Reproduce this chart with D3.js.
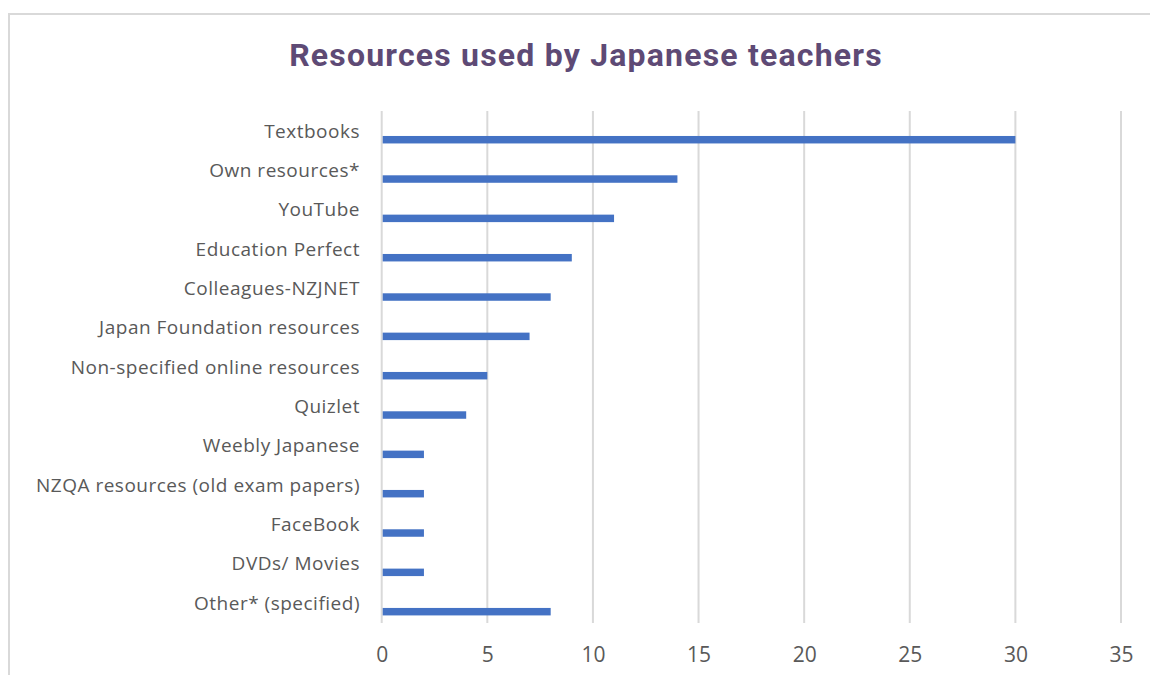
<!DOCTYPE html>
<html><head><meta charset="utf-8">
<script src="https://cdn.jsdelivr.net/npm/d3@7"></script>
<style>html,body{margin:0;padding:0;background:#fff;}</style>
</head><body>
<svg id="c" width="1150" height="675"></svg>
<script>
const categories = ["Textbooks","Own resources*","YouTube","Education Perfect","Colleagues-NZJNET","Japan Foundation resources","Non-specified online resources","Quizlet","Weebly Japanese","NZQA resources (old exam papers)","FaceBook","DVDs/ Movies","Other* (specified)"];
const values = [30,14,11,9,8,7,5,4,2,2,2,2,8];
const xTicks = [0,5,10,15,20,25,30,35];
const title = "Resources used by Japanese teachers";

const svg = d3.select("#c");
// frame
svg.append("path").attr("d","M9,675 V14 H1150").attr("fill","none").attr("stroke","#d9d9d9").attr("stroke-width",2);

svg.append("text").attr("x",586).attr("y",66).attr("text-anchor","middle")
  .attr("font-family","Roboto").attr("font-weight","bold").attr("font-size",32)
  .attr("letter-spacing",1.2)
  .attr("fill","#5e4a75").text(title);

const x = d3.scaleLinear().domain([0,35]).range([381.7,1121]);
const y = d3.scaleBand().domain(categories).range([111,622.3]).paddingInner(0).paddingOuter(0);

// gridlines
svg.append("g").selectAll("line").data(xTicks).join("line")
  .attr("x1",d=>x(d)).attr("x2",d=>x(d)).attr("y1",111).attr("y2",623)
  .attr("stroke","#d9d9d9").attr("stroke-width",2);

// bars
const bw = y.bandwidth();
svg.append("g").selectAll("rect").data(values).join("rect")
  .attr("x",x(0)+1).attr("y",(d,i)=>y(categories[i])+bw*0.635)
  .attr("width",d=>x(d)-x(0)-1).attr("height",bw*0.19)
  .attr("fill","#4472c4");

// category labels
const yAxis = d3.axisLeft(y).tickSize(0).tickPadding(0);
const ga = svg.append("g").attr("transform","translate(360,1)").call(yAxis);
ga.select(".domain").remove();
ga.selectAll("text").attr("font-family","Open Sans").attr("font-size",19).attr("letter-spacing",0.5)
  .attr("fill","#595959").attr("dy","0.32em");

// x axis labels
const xAxis = d3.axisBottom(x).tickValues(xTicks).tickSize(0).tickPadding(0);
const gx = svg.append("g").attr("transform","translate(0,647)").call(xAxis);
gx.select(".domain").remove();
gx.selectAll("text").attr("font-family","Open Sans").attr("font-size",21).attr("fill","#595959").attr("dy","0.71em");
</script>
</body></html>
